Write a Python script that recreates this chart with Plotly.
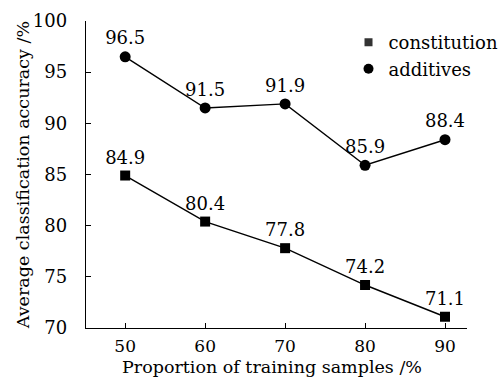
import plotly.graph_objects as go

x_vals = [50, 60, 70, 80, 90]
constitution = [84.9, 80.4, 77.8, 74.2, 71.1]
additives = [96.5, 91.5, 91.9, 85.9, 88.4]
x_ticks = [50, 60, 70, 80, 90]
y_ticks = [70, 75, 80, 85, 90, 95, 100]

FONT = "DejaVu Serif"
FS = 18
fig = go.Figure()

fig.add_trace(go.Scatter(
    x=x_vals, y=constitution, mode="lines+markers+text",
    text=[f"{v:.1f}" for v in constitution], textposition="top center",
    textfont=dict(family=FONT, size=FS, color="black"),
    line=dict(color="black", width=1.4),
    marker=dict(symbol="square", size=10, color="black"),
    showlegend=False, cliponaxis=False))
fig.add_trace(go.Scatter(
    x=x_vals, y=additives, mode="lines+markers+text",
    text=[f"{v:.1f}" for v in additives], textposition="top center",
    textfont=dict(family=FONT, size=FS, color="black"),
    line=dict(color="black", width=1.4),
    marker=dict(symbol="circle", size=11, color="black"),
    showlegend=False, cliponaxis=False))

# legend entries (markers only)
fig.add_trace(go.Scatter(x=[None], y=[None], mode="markers", name="constitution",
                         marker=dict(symbol="square", size=8, color="#333333")))
fig.add_trace(go.Scatter(x=[None], y=[None], mode="markers", name="additives",
                         marker=dict(symbol="circle", size=10, color="black")))

fig.update_layout(
    width=500, height=378,
    margin=dict(l=86, r=33, t=21, b=50, autoexpand=False),
    paper_bgcolor="white", plot_bgcolor="white",
    font=dict(family=FONT, size=FS, color="black"),
    legend=dict(x=0.689, y=0.99, xanchor="left", yanchor="top",
                bgcolor="rgba(0,0,0,0)", font=dict(family=FONT, size=FS, color="black"),
                itemwidth=30, tracegroupgap=0),
    xaxis=dict(range=[45.1, 92.75], tickvals=x_ticks, ticks="inside", ticklen=5,
               tickcolor="black", showline=True, linecolor="black", linewidth=1.4,
               showgrid=False, zeroline=False, ticklabelstandoff=2, automargin=False,
               tickfont=dict(family=FONT, size=17, color="black")),
    yaxis=dict(range=[70, 100], tickvals=y_ticks, ticks="inside", ticklen=5,
               tickcolor="black", showline=True, linecolor="black", linewidth=1.4,
               showgrid=False, zeroline=False, ticklabelstandoff=14, automargin=False,
               tickfont=dict(family=FONT, size=FS, color="black")),
    annotations=[
        dict(text="Proportion of training samples /%", xref="paper", yref="paper",
             x=0.487, y=-0.128, xanchor="center", yanchor="middle", showarrow=False,
             font=dict(family=FONT, size=17.5, color="black")),
        dict(text="Average classification accuracy /%", xref="paper", yref="paper",
             x=-0.165, y=0.498, xanchor="center", yanchor="middle", showarrow=False,
             textangle=-90, font=dict(family=FONT, size=17.5, color="black")),
    ],
)

fig.write_html("out.html", config={"displayModeBar": False},
               post_script="document.body.style.margin='0';")
